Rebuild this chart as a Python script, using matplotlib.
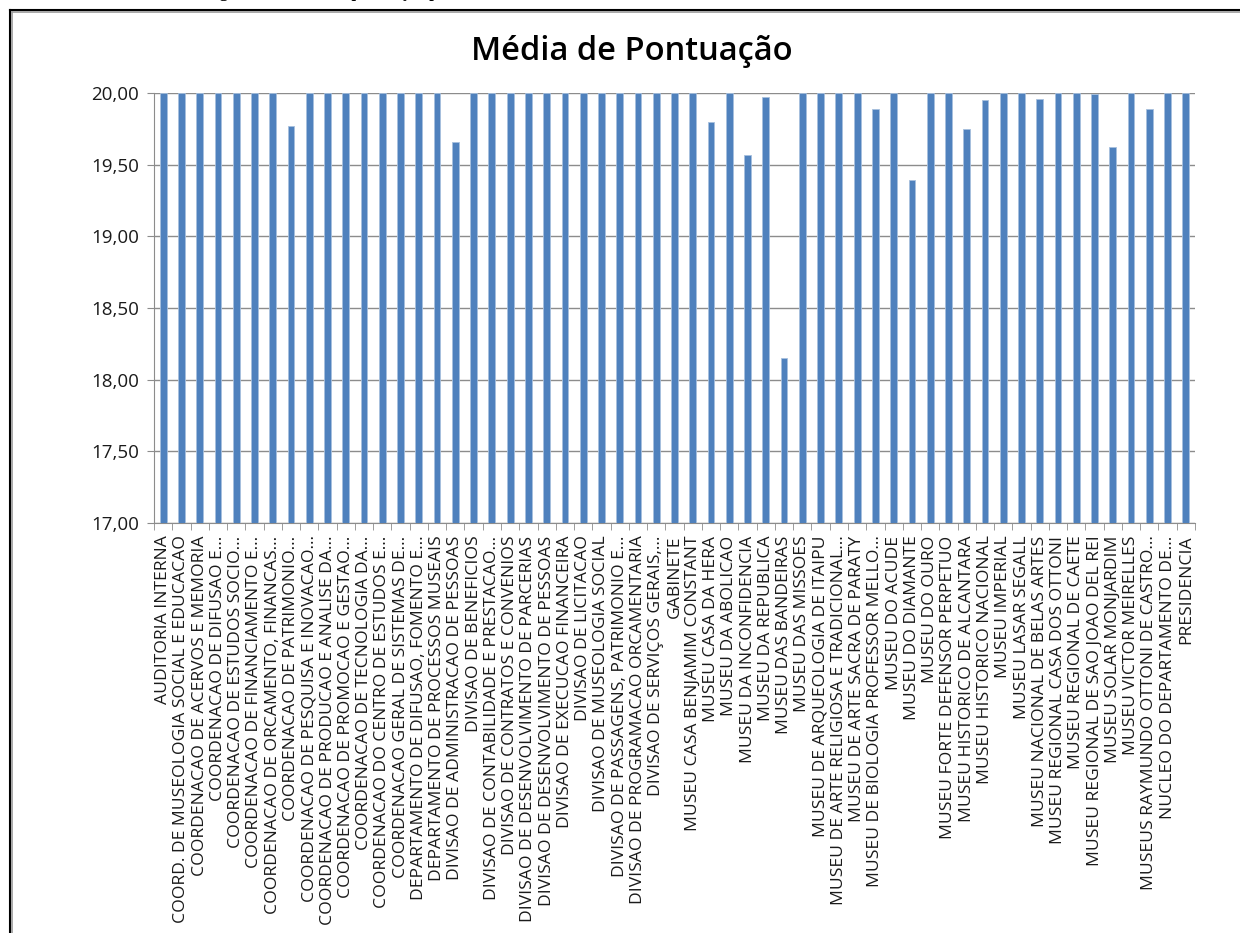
import numpy as np
import matplotlib
matplotlib.use("Agg")
import matplotlib.pyplot as plt
from matplotlib.lines import Line2D
from matplotlib.ticker import FuncFormatter, FixedLocator

plt.rcParams["font.family"] = ["Open Sans", "DejaVu Sans"]

# Data
unidades = [
    "AUDITORIA INTERNA",
    "COORD. DE MUSEOLOGIA SOCIAL E EDUCACAO",
    "COORDENACAO DE ACERVOS E MEMORIA",
    "COORDENACAO DE DIFUSAO E...",
    "COORDENACAO DE ESTUDOS SOCIO...",
    "COORDENACAO DE FINANCIAMENTO E...",
    "COORDENACAO DE ORCAMENTO, FINANCAS...",
    "COORDENACAO DE PATRIMONIO...",
    "COORDENACAO DE PESQUISA E INOVACAO...",
    "COORDENACAO DE PRODUCAO E ANALISE DA...",
    "COORDENACAO DE PROMOCAO E GESTAO...",
    "COORDENACAO DE TECNOLOGIA DA...",
    "COORDENACAO DO CENTRO DE ESTUDOS E...",
    "COORDENACAO GERAL DE SISTEMAS DE...",
    "DEPARTAMENTO DE DIFUSAO, FOMENTO E...",
    "DEPARTAMENTO DE PROCESSOS MUSEAIS",
    "DIVISAO DE ADMINISTRACAO DE PESSOAS",
    "DIVISAO DE BENEFICIOS",
    "DIVISAO DE CONTABILIDADE E PRESTACAO...",
    "DIVISAO DE CONTRATOS E CONVENIOS",
    "DIVISAO DE DESENVOLVIMENTO DE PARCERIAS",
    "DIVISAO DE DESENVOLVIMENTO DE PESSOAS",
    "DIVISAO DE EXECUCAO FINANCEIRA",
    "DIVISAO DE LICITACAO",
    "DIVISAO DE MUSEOLOGIA SOCIAL",
    "DIVISAO DE PASSAGENS, PATRIMONIO E...",
    "DIVISAO DE PROGRAMACAO ORCAMENTARIA",
    "DIVISAO DE SERVIÇOS GERAIS,...",
    "GABINETE",
    "MUSEU CASA BENJAMIM CONSTANT",
    "MUSEU CASA DA HERA",
    "MUSEU DA ABOLICAO",
    "MUSEU DA INCONFIDENCIA",
    "MUSEU DA REPUBLICA",
    "MUSEU DAS BANDEIRAS",
    "MUSEU DAS MISSOES",
    "MUSEU DE ARQUEOLOGIA DE ITAIPU",
    "MUSEU DE ARTE RELIGIOSA E TRADICIONAL...",
    "MUSEU DE ARTE SACRA DE PARATY",
    "MUSEU DE BIOLOGIA PROFESSOR MELLO...",
    "MUSEU DO ACUDE",
    "MUSEU DO DIAMANTE",
    "MUSEU DO OURO",
    "MUSEU FORTE DEFENSOR PERPETUO",
    "MUSEU HISTORICO DE ALCANTARA",
    "MUSEU HISTORICO NACIONAL",
    "MUSEU IMPERIAL",
    "MUSEU LASAR SEGALL",
    "MUSEU NACIONAL DE BELAS ARTES",
    "MUSEU REGIONAL CASA DOS OTTONI",
    "MUSEU REGIONAL DE CAETE",
    "MUSEU REGIONAL DE SAO JOAO DEL REI",
    "MUSEU SOLAR MONJARDIM",
    "MUSEU VICTOR MEIRELLES",
    "MUSEUS RAYMUNDO OTTONI DE CASTRO...",
    "NUCLEO DO DEPARTAMENTO DE...",
    "PRESIDENCIA",
]
media = [
    20.00, 20.00, 20.00, 20.00, 20.00, 20.00, 20.00, 19.77, 20.00, 20.00,
    20.00, 20.00, 20.00, 20.00, 20.00, 20.00, 19.66, 20.00, 20.00, 20.00,
    20.00, 20.00, 20.00, 20.00, 20.00, 20.00, 20.00, 20.00, 20.00, 20.00,
    19.80, 20.00, 19.57, 19.97, 18.15, 20.00, 20.00, 20.00, 20.00, 19.89,
    20.00, 19.39, 20.00, 20.00, 19.75, 19.95, 20.00, 20.00, 19.96, 20.00,
    20.00, 19.99, 19.62, 20.00, 19.89, 20.00, 20.00,
]
y_ticks = [17.0, 17.5, 18.0, 18.5, 19.0, 19.5, 20.0]

W, H = 1240, 933
fig = plt.figure(figsize=(W / 100, H / 100), dpi=100)
ax = fig.add_axes([154 / W, 1 - 523 / H, (1195 - 154) / W, (523 - 93) / H])

x = np.arange(len(unidades))
ax.bar(x, np.array(media) - 17.0, bottom=17.0, width=0.37,
       color="#4F81BD", edgecolor="#A7C0DE", linewidth=0.6, zorder=3)

ax.set_ylim(17.0, 20.0)
ax.set_xlim(-0.5, len(unidades) - 0.5)
ax.yaxis.set_major_locator(FixedLocator(y_ticks))
ax.yaxis.set_major_formatter(FuncFormatter(lambda v, p: f"{v:.2f}".replace(".", ",")))
ax.grid(axis="y", color="#8C8C8C", linewidth=1.0, zorder=0)
ax.tick_params(axis="y", labelsize=13.5, length=5, color="#8C8C8C", pad=6,
               labelcolor="#1a1a1a")

# category labels centred on bars, ticks between categories
ax.set_xticks(x)
ax.set_xticklabels(unidades, rotation=90, fontsize=12.6, va="top", ha="center",
                   color="#1a1a1a")
ax.tick_params(axis="x", which="major", length=0, pad=9)
ax.set_xticks(np.arange(-0.5, len(unidades)), minor=True)
ax.tick_params(axis="x", which="minor", length=5, color="#8C8C8C")

for s in ["top", "right"]:
    ax.spines[s].set_visible(False)
for s in ["left", "bottom"]:
    ax.spines[s].set_color("#8C8C8C")

fig.text(632 / W, 1 - 52 / H, "Média de Pontuação", ha="center", va="center",
         fontsize=23.5, fontweight="semibold")

# chart frame (cut off at right and bottom)
fig.add_artist(Line2D([10 / W, 10 / W], [1 - 10 / H, 0], color="black", lw=1.5,
                      transform=fig.transFigure))
fig.add_artist(Line2D([10 / W, 1], [1 - 10 / H, 1 - 10 / H], color="black", lw=1.5,
                      transform=fig.transFigure))
fig.add_artist(Line2D([12 / W, 12 / W], [1 - 12 / H, 0], color="#9A9A9A", lw=1.2,
                      transform=fig.transFigure))
fig.add_artist(Line2D([12 / W, 1], [1 - 12 / H, 1 - 12 / H], color="#9A9A9A", lw=1.2,
                      transform=fig.transFigure))

# caption above the frame, mostly cropped away like in the source page
fig.text(205 / W, 1 + 3 / H, "Figura 9 – Média de pontuação por unidade",
         ha="left", va="baseline", fontsize=12, fontweight="bold",
         family="Liberation Serif")

fig.savefig("out.png", dpi=100)
